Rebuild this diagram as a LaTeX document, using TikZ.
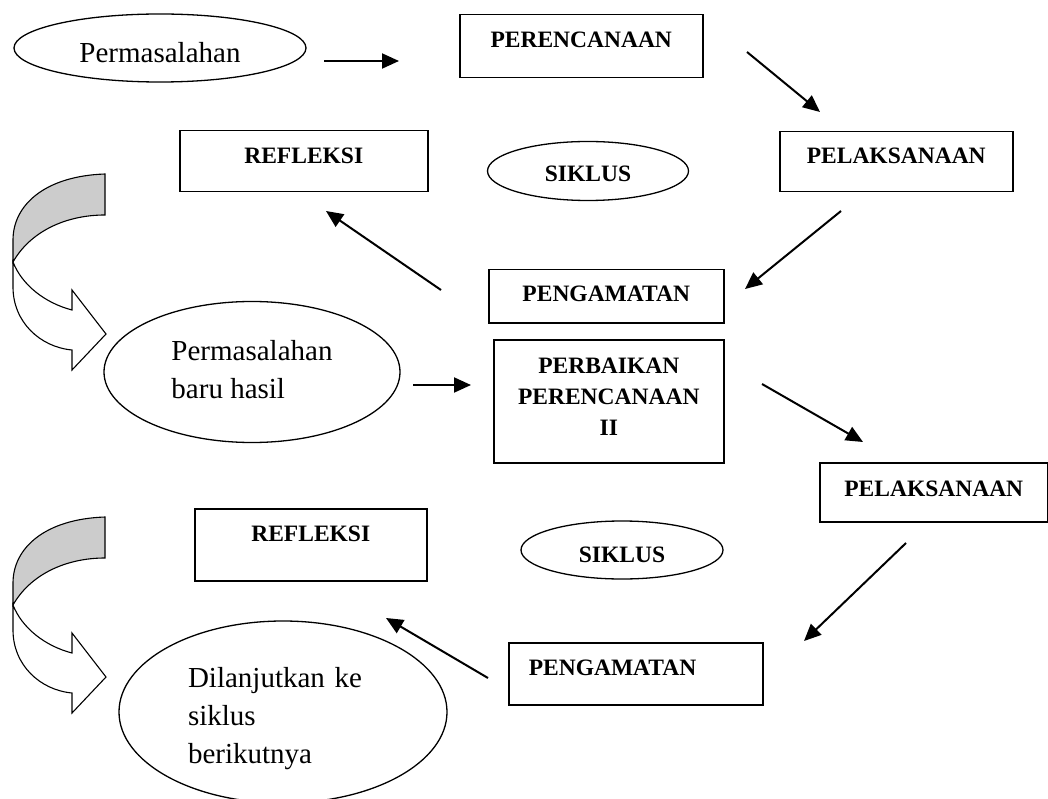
\documentclass[tikz,border=0pt]{standalone}
\usepackage{fontspec}
\setmainfont{Liberation Serif}
\usepackage{tikz}
\usetikzlibrary{shapes.geometric}
\usetikzlibrary{arrows.meta}
\usepackage{xcolor}

\tikzset{
    box/.style={draw, line width=1.5pt, inner ysep=0pt, anchor=north west,
        font=\bfseries\fontsize{23.5}{31}\selectfont},
    oval/.style={draw, ellipse, line width=1.3pt, inner sep=0pt,
        font=\fontsize{29}{38}\selectfont},
    arr/.style={-{Triangle[length=17pt,width=15pt]}, line width=2pt},
    turn/.style={draw, line width=1.1pt, line join=miter}
}

\begin{document}
\begin{tikzpicture}[x=1pt, y=-1pt]
    \useasboundingbox (0,0) rectangle (1048,799);

    % First cycle
    \node[oval, minimum width=292, minimum height=68, text height=30, text depth=0] (perm1) at (160,48) {Permasalahan};
    \node[box, minimum width=243, minimum height=63, text height=33, text depth=30] (plan1) at (459,14) {PERENCANAAN};
    \node[box, minimum width=233, minimum height=60, text height=32, text depth=28] (impl1) at (779,131) {PELAKSANAAN};
    \node[box, minimum width=248, minimum height=61, text height=33, text depth=28] (refl1) at (179,130) {REFLEKSI};
    \node[oval, minimum width=201, minimum height=59, text height=22, text depth=0,
        font=\bfseries\fontsize{23.5}{31}\selectfont] (cyc1) at (588,171) {SIKLUS};
    \node[box, minimum width=235, minimum height=53, text height=32, text depth=21] (obs1) at (488,269) {PENGAMATAN};

    % Second cycle
    \node[oval, minimum width=296, minimum height=141, text height=58, text depth=6, align=left] (perm2) at (252,372) {Permasalahan\\baru hasil};
    \node[box, minimum width=230, minimum height=123, text height=96, text depth=27, align=center] (plan2) at (493,339) {PERBAIKAN\\PERENCANAAN\\II};
    \node[box, minimum width=228, minimum height=59, text height=34, text depth=25] (impl2) at (819,462) {PELAKSANAAN};
    \node[box, minimum width=232, minimum height=72, text height=33, text depth=39] (refl2) at (194,508) {REFLEKSI};
    \node[oval, minimum width=202, minimum height=58, text height=24, text depth=0,
        font=\bfseries\fontsize{23.5}{31}\selectfont] (cyc2) at (622,550) {SIKLUS};
    \node[box, minimum height=62, text height=33, text depth=29, inner xsep=20, text width=214, align=left] (obs2) at (508,642) {PENGAMATAN};
    \node[oval, minimum width=328, minimum height=182, text depth=70, text width=190, align=left] (next) at (283,712) {Dilanjutkan ke\\siklus\\berikutnya};

    % Arrow ends
    \coordinate (perm1out) at (324,61);
    \coordinate (plan1in) at (399,61);
    \coordinate (plan1out) at (747,52);
    \coordinate (impl1in) at (820,112);
    \coordinate (impl1out) at (841,211);
    \coordinate (obs1in) at (745,289);
    \coordinate (obs1out) at (441,290);
    \coordinate (refl1in) at (326,211);
    \coordinate (perm2out) at (413,385);
    \coordinate (plan2in) at (471,385);
    \coordinate (plan2out) at (762,384);
    \coordinate (impl2in) at (863,442);
    \coordinate (impl2out) at (906,543);
    \coordinate (obs2in) at (804,641);
    \coordinate (obs2out) at (488,678);
    \coordinate (refl2in) at (386,618);

    \draw[arr] (perm1out) -- (plan1in);
    \draw[arr] (plan1out) -- (impl1in);
    \draw[arr] (impl1out) -- (obs1in);
    \draw[arr] (obs1out) -- (refl1in);
    \draw[arr] (perm2out) -- (plan2in);
    \draw[arr] (plan2out) -- (impl2in);
    \draw[arr] (impl2out) -- (obs2in);
    \draw[arr] (obs2out) -- (refl2in);

    % Curved arrows
    \foreach \dy in {0,343} {
        \begin{scope}[shift={(0,\dy)}]
            \draw[turn, fill=black!20] (105,174) .. controls (45,176) and (13,205) .. (13,240)
                -- (13,262) .. controls (30,232) and (65,215) .. (105,215) -- cycle;
            \draw[turn, fill=white] (13,262) -- (13,287) .. controls (13,322) and (40,347) .. (72,350)
                -- (72,370) -- (106,334) -- (72,290) -- (72,310)
                .. controls (45,303) and (22,285) .. (13,262) -- cycle;
        \end{scope}
    }
\end{tikzpicture}
\end{document}
